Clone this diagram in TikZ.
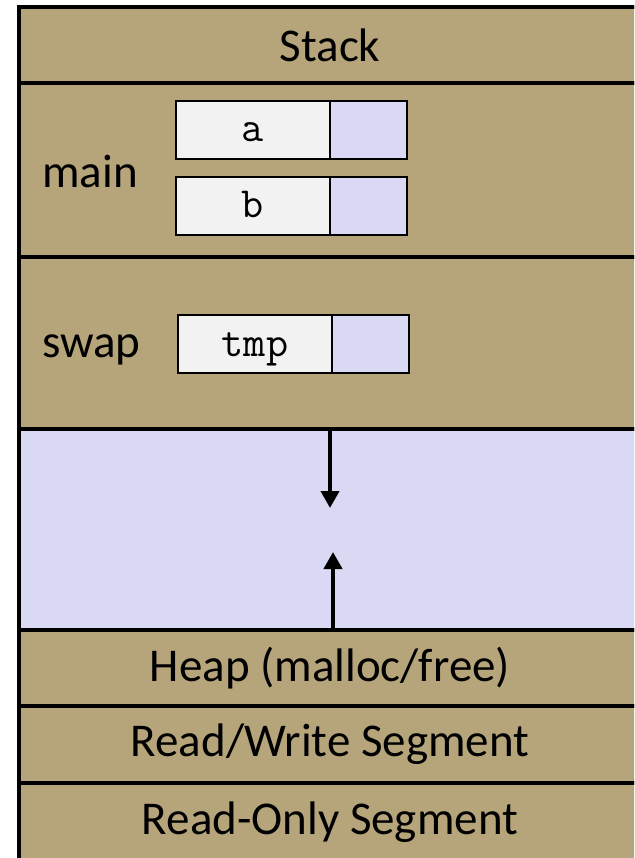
\documentclass[tikz,border=0pt]{standalone}
\usepackage{fontspec}
\setmainfont{Carlito}
\usetikzlibrary{arrows.meta}
\definecolor{tanbg}{RGB}{182,165,122}
\definecolor{freebg}{RGB}{217,217,243}
\definecolor{namebg}{RGB}{242,242,242}
\tikzset{
  band/.style={draw=black, line width=3.5pt, fill=tanbg, minimum width=622pt,
    inner sep=0pt, outer sep=0pt, anchor=north west, font=\fontsize{47}{56}\selectfont},
  freeband/.style={band, fill=freebg},
  framelabel/.style={anchor=west, inner sep=0pt, font=\fontsize{47}{56}\selectfont},
  namebox/.style={draw=black, line width=2pt, fill=namebg, minimum width=154pt,
    minimum height=58pt, inner sep=0pt, outer sep=0pt, anchor=north west,
    text height=28pt, text depth=4pt, font=\fontsize{43}{50}\ttfamily},
  valbox/.style={draw=black, line width=2pt, fill=freebg, minimum width=77pt,
    minimum height=58pt, inner sep=0pt, outer sep=0pt, anchor=north west},
  growarrow/.style={line width=4pt, -{Triangle[width=18pt,length=17pt]}}
}
\begin{document}
\begin{tikzpicture}[x=1pt,y=-1pt]
\useasboundingbox (0,0) rectangle (634,858);
\clip (0,0) rectangle (634,858);
% bands
\node[band, minimum height=76pt] (stack) at (19,7) {Stack};
\node[band, minimum height=174pt] (mainf) at (stack.south west) {};
\node[band, minimum height=172pt] (swapf) at (mainf.south west) {};
\node[freeband, minimum height=201pt] (free) at (swapf.south west) {};
\node[band, minimum height=76pt] (heap) at (free.south west) {Heap (malloc/free)};
\node[band, minimum height=77pt] (rw) at (heap.south west) {Read/Write Segment};
\node[band, minimum height=78pt] (ro) at (rw.south west) {Read-Only Segment};
% frame labels
\node[framelabel] (mainlbl) at (42,172) {main};
\node[framelabel] (swaplbl) at (42,350) {swap};
% variables
\node[namebox] (avar) at (176,101) {a};
\node[valbox] (aval) at (avar.north east) {};
\node[namebox] (bvar) at (176,177) {b};
\node[valbox] (bval) at (bvar.north east) {};
\node[namebox] (tvar) at (178,315) {tmp};
\node[valbox] (tval) at (tvar.north east) {};
% growth arrows
\coordinate (downend) at (330,508);
\coordinate (upend) at (333,552);
\draw[growarrow] (free.north -| downend) -- (downend);
\draw[growarrow] (free.south -| upend) -- (upend);
% outer frame
\draw[line width=4.5pt] (19,7) rectangle (641,866);
\end{tikzpicture}
\end{document}
